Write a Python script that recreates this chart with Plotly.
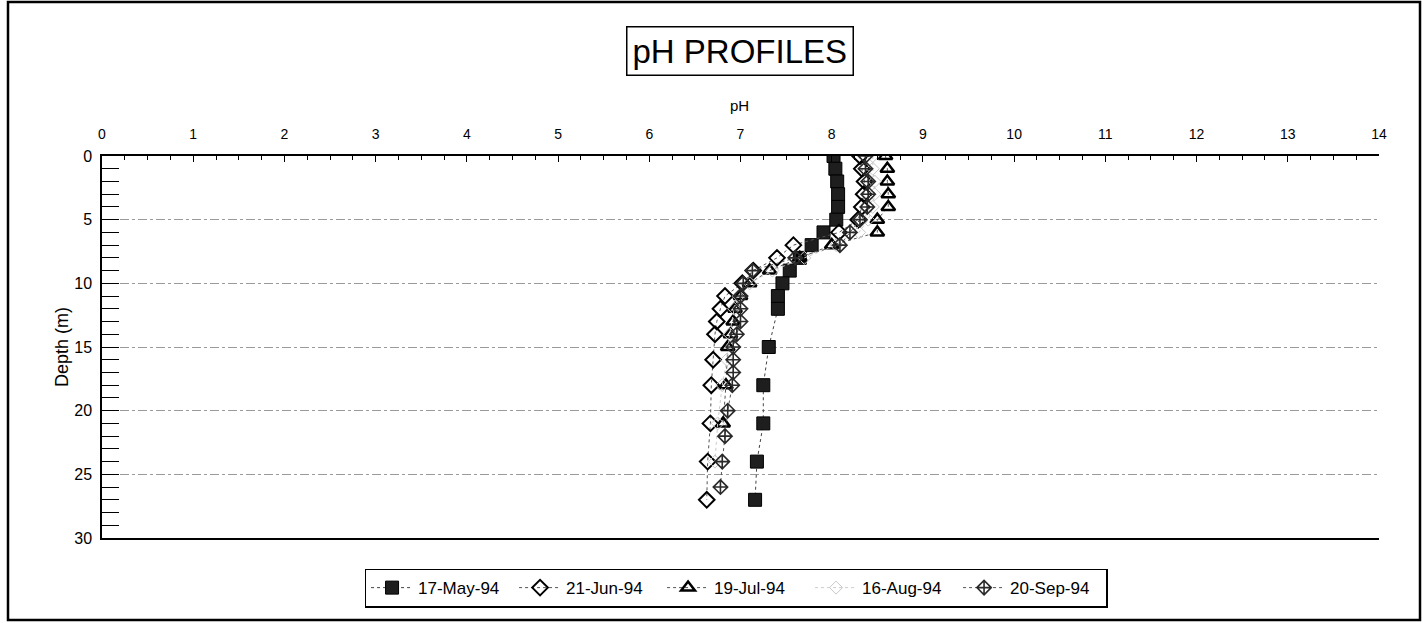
import plotly.graph_objects as go

# ---------------- data ----------------
depth_may = [0, 1, 2, 3, 4, 5, 6, 7, 8, 9, 10, 11, 12, 15, 18, 21, 24, 27]
ph_may = [8.02, 8.04, 8.06, 8.07, 8.07, 8.05, 7.91, 7.78, 7.65, 7.54, 7.46, 7.41, 7.41,
          7.31, 7.25, 7.25, 7.18, 7.16]

depth_jun = [0, 1, 2, 3, 4, 5, 6, 7, 8, 9, 10, 11, 12, 13, 14, 16, 18, 21, 24, 27]
ph_jun = [8.31, 8.33, 8.36, 8.35, 8.33, 8.29, 8.08, 7.58, 7.40, 7.14, 7.02, 6.83, 6.78,
          6.74, 6.72, 6.70, 6.68, 6.67, 6.64, 6.63]

depth_jul = [0, 1, 2, 3, 4, 5, 6, 7, 8, 9, 10, 11, 12, 13, 14, 15, 18, 21]
ph_jul = [8.59, 8.61, 8.61, 8.62, 8.62, 8.50, 8.50, 8.00, 7.65, 7.32, 7.10, 7.00, 6.94,
          6.92, 6.89, 6.86, 6.84, 6.81]

depth_aug = [0, 1, 2, 3, 4, 5, 6, 7, 8, 9, 10, 11, 12, 14, 16, 18, 21, 24]
ph_aug = [8.45, 8.45, 8.47, 8.47, 8.45, 8.40, 8.30, 8.05, 7.70, 7.35, 7.10, 6.98, 6.93,
          6.88, 6.85, 6.80, 6.75, 6.72]

depth_sep = [0, 1, 2, 3, 4, 5, 6, 7, 8, 9, 10, 11, 12, 13, 14, 15, 16, 17, 18, 20, 22, 24, 26]
ph_sep = [8.37, 8.37, 8.40, 8.40, 8.39, 8.31, 8.20, 8.09, 7.60, 7.13, 7.03, 7.00, 7.00,
          7.00, 6.96, 6.92, 6.92, 6.92, 6.91, 6.86, 6.83, 6.80, 6.78]

series_names = ["17-May-94", "21-Jun-94", "19-Jul-94", "16-Aug-94", "20-Sep-94"]
x_ticks = list(range(0, 15))
y_ticks = [0, 5, 10, 15, 20, 25, 30]

FONT = "Liberation Sans, Arial, Helvetica, sans-serif"

styles = [
    dict(symbol="square", size=13, color="#1e1e1e", line=dict(color="black", width=1)),
    dict(symbol="diamond-open", size=12, color="black", line=dict(color="black", width=2)),
    dict(symbol="triangle-up-open", size=12, color="black", line=dict(color="black", width=2.5)),
    dict(symbol="diamond-open", size=10, color="#c8c8c8", line=dict(color="#c8c8c8", width=1)),
    dict(symbol="diamond-cross-open", size=11, color="#2a2a2a", line=dict(color="#2a2a2a", width=1.6)),
]
line_colors = ["#444444", "#555555", "#555555", "#cccccc", "#555555"]

data = [(ph_may, depth_may), (ph_jun, depth_jun), (ph_jul, depth_jul),
        (ph_aug, depth_aug), (ph_sep, depth_sep)]

fig = go.Figure()
for (xs, ys), name, st, lc in zip(data, series_names, styles, line_colors):
    fig.add_trace(go.Scatter(
        x=xs, y=ys, name=name, mode="lines+markers",
        line=dict(color=lc, width=1, dash="dot"),
        marker=st,
    ))

fig.update_layout(
    width=1428, height=623,
    margin=dict(l=102, r=49, t=156, b=85),
    paper_bgcolor="white", plot_bgcolor="white",
    font=dict(family=FONT, color="black", size=14),
    showlegend=True,
    legend=dict(
        orientation="h", x=0.2056, y=-0.08, xanchor="left", yanchor="top",
        bordercolor="black", borderwidth=1.5, bgcolor="white",
        font=dict(size=17, family=FONT),
        entrywidth=91, entrywidthmode="pixels",
        itemwidth=42,
    ),
    xaxis=dict(
        side="top", range=[0, 14], tickvals=x_ticks, ticktext=[str(v) for v in x_ticks],
        ticks="inside", ticklen=6, tickwidth=1, tickcolor="black",
        minor=dict(dtick=0.25, ticks="inside", ticklen=4, tickcolor="black", showgrid=False),
        showgrid=False, zeroline=False,
        showline=True, linecolor="black", linewidth=1.5, mirror=True,
        ticklabelstandoff=10, tickfont=dict(size=14),
    ),
    yaxis=dict(
        range=[30, 0], tickvals=y_ticks, ticktext=[str(v) for v in y_ticks],
        ticks="inside", ticklen=17, tickwidth=1.3, tickcolor="black",
        minor=dict(dtick=1, ticks="inside", ticklen=17, tickwidth=1, tickcolor="black",
                   showgrid=False),
        showgrid=True, gridcolor="#9a9a9a", griddash="dashdot", gridwidth=1,
        zeroline=False,
        showline=True, linecolor="black", linewidth=1.5,
        ticklabelstandoff=5, tickfont=dict(size=16),
    ),
)

# Axis titles
fig.add_annotation(text="pH", xref="paper", yref="paper", x=0.4996, y=(538 - 105) / 382,
                   showarrow=False, font=dict(size=15, family=FONT), xanchor="center",
                   yanchor="middle")
fig.add_annotation(text="Depth (m)", xref="paper", yref="paper", x=(62 - 102) / 1277,
                   y=0.5, textangle=-90, showarrow=False, font=dict(size=18, family=FONT),
                   xanchor="center", yanchor="middle")

# Title box
fig.add_annotation(text="pH PROFILES", xref="paper", yref="paper", x=0.4996,
                   y=(538 - 51) / 382, showarrow=False,
                   font=dict(size=33, family=FONT), xanchor="center", yanchor="middle",
                   bordercolor="black", borderwidth=1.5, borderpad=5, bgcolor="white")

# Outer frame
fig.add_shape(type="rect", xref="paper", yref="paper",
              x0=(8 - 102) / 1277, x1=(1420 - 102) / 1277,
              y0=(538 - 620) / 382, y1=(538 - 2) / 382,
              line=dict(color="black", width=2.5), layer="below")

fig.write_html("out.html")
